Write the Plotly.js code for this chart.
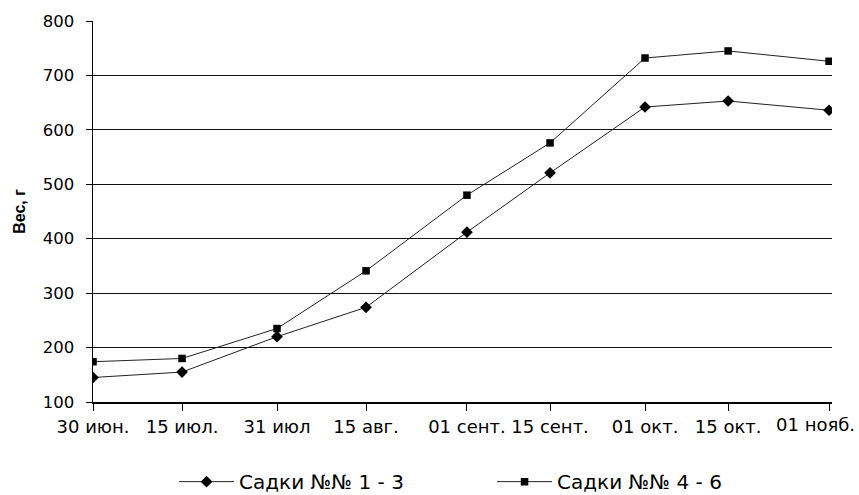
<!DOCTYPE html>
<html>
<head>
<meta charset="utf-8">
<script src="https://cdn.plot.ly/plotly-3.0.1.min.js"></script>
<style>html,body{margin:0;padding:0;background:#fff;}</style>
</head>
<body>
<div id="chart" style="width:859px;height:495px;"></div>
<script>
var dates = ['2001-06-30','2001-07-15','2001-07-31','2001-08-15','2001-09-01','2001-09-15','2001-10-01','2001-10-15','2001-11-01'];
var tickLabels = ['30 июн.','15 июл.','31 июл','15 авг.','01 сент.','15 сент.','01 окт.','15 окт.','01 нояб.'];
var series1Name = 'Садки №№ 1 - 3';
var series1 = [145, 155, 220, 274, 412, 521, 642, 653, 636];
var series2Name = 'Садки №№ 4 - 6';
var series2 = [174, 180, 235, 341, 480, 576, 732, 745, 726];
var yTicks = [100, 200, 300, 400, 500, 600, 700, 800];
var gridVals = [200, 300, 400, 500, 600, 700];

var tickFamily = 'DejaVu Sans, Verdana, sans-serif';
var titleFamily = 'Liberation Sans, Arial, sans-serif';
var xTickFont = {family: tickFamily, size: 18, color: '#000'};

var last = tickLabels.length - 1;
// the last label is right-aligned to its tick (as in the reference) so it stays inside the picture
var tickText = tickLabels.map(function (t, i) { return i === last ? '' : t; });

var traces = [
  {x: dates, y: series1, name: series1Name, type: 'scatter', mode: 'lines+markers',
   line: {color: '#222', width: 1}, marker: {symbol: 'diamond', size: 9, color: '#000'}},
  {x: dates, y: series2, name: series2Name, type: 'scatter', mode: 'lines+markers',
   line: {color: '#222', width: 1}, marker: {symbol: 'square', size: 7.5, color: '#000'}},
  {x: [dates[0]], y: [null], yaxis: 'y2', showlegend: false, hoverinfo: 'skip', type: 'scatter', mode: 'lines'}
];

var layout = {
  width: 859, height: 495,
  margin: {l: 93, r: 27, t: 21, b: 93, autoexpand: false},
  paper_bgcolor: '#fff', plot_bgcolor: '#fff',
  font: {family: tickFamily, size: 16, color: '#000'},
  showlegend: true,
  legend: {orientation: 'h', x: 0.540, xanchor: 'center', yref: 'container', y: 0.027, yanchor: 'middle',
           bgcolor: 'rgba(0,0,0,0)',
           font: {family: tickFamily, size: 20, color: '#000'}, entrywidth: 248, itemwidth: 55},
  xaxis: {
    type: 'date', automargin: false,
    range: ['2001-06-30', '2001-11-01 12:00'],
    tickvals: dates, ticktext: tickText, tickangle: 0,
    ticks: 'outside', ticklen: 7, tickcolor: '#000', tickwidth: 1,
    ticklabelstandoff: 1,
    showline: true, linecolor: '#000', linewidth: 1.5,
    showgrid: false, zeroline: false,
    tickfont: xTickFont
  },
  yaxis: {
    automargin: false,
    range: [100, 800],
    tickvals: yTicks,
    ticks: 'outside', ticklen: 6, tickcolor: '#000', tickwidth: 1,
    ticklabelstandoff: 8,
    showline: true, linecolor: '#000', linewidth: 1.5,
    showgrid: false, zeroline: false,
    tickfont: {family: tickFamily, size: 16.5, color: '#000'},
    title: {text: '<b>Вес, г</b>', font: {family: titleFamily, size: 16, color: '#000'}, standoff: 13}
  },
  yaxis2: {
    overlaying: 'y', range: [100, 800], tickvals: gridVals, automargin: false,
    showticklabels: false, ticks: '', showgrid: true, gridcolor: '#111', gridwidth: 1.2,
    zeroline: false, showline: false
  },
  annotations: [{
    text: tickLabels[last], x: dates[last], xref: 'x', y: 0, yref: 'paper',
    xanchor: 'right', yanchor: 'top', xshift: 28, yshift: -10, showarrow: false,
    font: xTickFont
  }]
};

Plotly.newPlot('chart', traces, layout, {displayModeBar: false, staticPlot: true});
</script>
</body>
</html>
